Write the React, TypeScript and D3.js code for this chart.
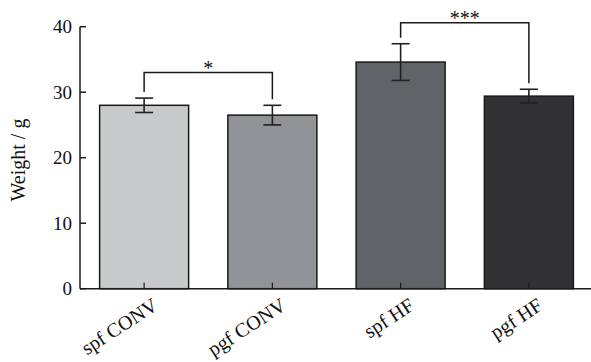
import React from "react";
import * as d3 from "d3";

const categories = ["spf CONV", "pgf CONV", "spf HF", "pgf HF"];
const means = [28.0, 26.5, 34.6, 29.4];
const errors = [1.1, 1.5, 2.8, 1.05];
const barColors = ["#c8c9cb", "#929396", "#626366", "#323133"];
const yTicks = [0, 10, 20, 30, 40];
const brackets = [
  { from: 0, to: 1, level: 33.0, label: "*" },
  { from: 2, to: 3, level: 40.6, label: "***" },
];

const W = 591;
const H = 362;
const FONT = "'Liberation Serif', 'Times New Roman', serif";

export default function App() {
  const x = d3
    .scaleBand<string>()
    .domain(categories)
    .range([80, 593])
    .paddingInner(0.306)
    .paddingOuter(0.153);
  const y = d3.scaleLinear().domain([0, 40]).range([288.7, 26.7]);
  const y0 = y(0);
  const cx = (i: number) => (x(categories[i]) as number) + x.bandwidth() / 2;
  const ts = { fontFamily: FONT };

  return (
    <svg
      width={W}
      height={H}
      style={{ position: "absolute", left: 0, top: 0, background: "#fff" }}
    >
      {categories.map((c, i) => (
        <rect
          key={c}
          x={x(c)}
          y={y(means[i])}
          width={x.bandwidth()}
          height={y0 - y(means[i])}
          fill={barColors[i]}
          stroke="#1a1a1a"
          strokeWidth={1.5}
        />
      ))}
      {categories.map((c, i) => (
        <line key={"t" + c} x1={cx(i)} x2={cx(i)} y1={y0} y2={y0 - 6} stroke="#1a1a1a" strokeWidth={1.2} />
      ))}
      {categories.map((c, i) => {
        const hi = y(means[i] + errors[i]);
        const lo = y(means[i] - errors[i]);
        return (
          <g key={"e" + c} stroke="#222" strokeWidth={1.6}>
            <line x1={cx(i)} x2={cx(i)} y1={hi} y2={lo} />
            <line x1={cx(i) - 9} x2={cx(i) + 9} y1={hi} y2={hi} />
            <line x1={cx(i) - 9} x2={cx(i) + 9} y1={lo} y2={lo} />
          </g>
        );
      })}
      <line x1={80} x2={80} y1={y(40)} y2={y0} stroke="#1a1a1a" strokeWidth={1.5} />
      <line x1={80} x2={591} y1={y0} y2={y0} stroke="#1a1a1a" strokeWidth={1.5} />
      {yTicks.map((t) => (
        <g key={"y" + t}>
          <line x1={80} x2={86} y1={y(t)} y2={y(t)} stroke="#1a1a1a" strokeWidth={1.5} />
          <text x={72} y={y(t)} dy="0.35em" textAnchor="end" fontSize={19} fill="#111" style={ts}>
            {t}
          </text>
        </g>
      ))}
      <text
        transform={`translate(25,160) rotate(-90)`}
        textAnchor="middle"
        fontSize={20}
        fill="#111"
        style={ts}
      >
        Weight / g
      </text>
      {categories.map((c, i) => (
        <text
          key={"l" + c}
          transform={`translate(${cx(i) + 15},${y0 + 20}) rotate(-33)`}
          textAnchor="end"
          fontSize={20}
          fill="#111"
          style={ts}
        >
          {c}
        </text>
      ))}
      {brackets.map((b, k) => {
        const by = y(b.level);
        const x1 = cx(b.from);
        const x2 = cx(b.to);
        const l1 = y(means[b.from] + errors[b.from]) - 6;
        const l2 = y(means[b.to] + errors[b.to]) - 6;
        return (
          <g key={"b" + k}>
            <path
              d={`M${x1},${l1}V${by}H${x2}V${l2}`}
              fill="none"
              stroke="#1a1a1a"
              strokeWidth={1.5}
            />
            <text x={(x1 + x2) / 2} y={by + 2} textAnchor="middle" fontSize={20} fill="#111" style={ts}>
              {b.label}
            </text>
          </g>
        );
      })}
    </svg>
  );
}
